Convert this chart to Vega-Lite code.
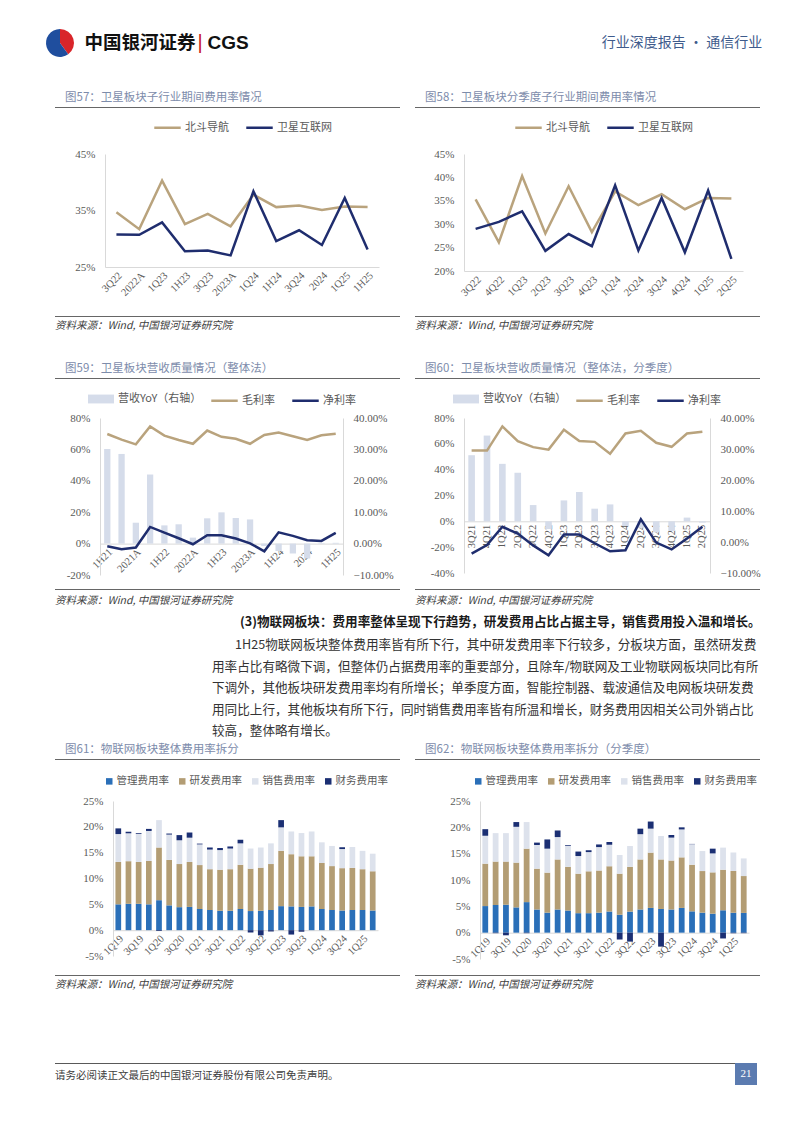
{
"$schema": "https://vega.github.io/schema/vega-lite/v6.json",
"padding": {"left": 45, "top": 28, "right": 0, "bottom": 0},
"background": "white",
"spacing": 0,
"resolve": {"scale": {"color": "independent", "fill": "independent", "stroke": "independent"}},
"config": {
  "view": {"stroke": null},
  "title": {"font": "Noto Sans CJK SC", "fontSize": 11.5, "fontWeight": "normal", "color": "#7d8cab", "anchor": "start"},
  "axis": {"labelFont": "Liberation Serif", "labelFontSize": 11, "labelColor": "#595959", "ticks": false, "grid": false, "domainColor": "#d9d9d9", "labelPadding": 8},
  "legend": {"orient": "top", "title": null, "labelFont": "Noto Sans CJK SC", "labelFontSize": 11, "labelColor": "#595959", "padding": 0, "layout": {"top": {"anchor": "middle"}}}
},
"vconcat": [
  {"hconcat": [
    {"width": 30, "height": 30, "data": {"values": [{"k": "红", "v": 2}, {"k": "蓝", "v": 3}]}, "mark": {"type": "arc", "outerRadius": 14}, "encoding": {"theta": {"field": "v", "type": "quantitative"}, "color": {"field": "k", "type": "nominal", "scale": {"domain": ["红", "蓝"], "range": ["#d9252a", "#1f4e9e"]}, "legend": null}}},
    {"width": 9, "height": 30, "data": {"values": []}, "mark": "point"},
    {"width": 112, "height": 30, "data": {"values": [{"t": "中国银河证券"}]}, "mark": {"type": "text", "font": "Noto Sans CJK SC", "fontSize": 18.5, "fontWeight": "bold", "color": "#111111"}, "encoding": {"text": {"field": "t"}}},
    {"width": 8, "height": 30, "data": {"values": [{"t": "|"}]}, "mark": {"type": "text", "font": "Liberation Sans", "fontSize": 20, "color": "#c8161d"}, "encoding": {"text": {"field": "t"}}},
    {"width": 48, "height": 30, "data": {"values": [{"t": "CGS"}]}, "mark": {"type": "text", "font": "Liberation Sans", "fontSize": 19, "fontWeight": "bold", "color": "#111111"}, "encoding": {"text": {"field": "t"}}},
    {"width": 349, "height": 30, "data": {"values": []}, "mark": "point"},
    {"width": 156, "height": 30, "data": {"values": [{"t": "行业深度报告 · 通信行业"}]}, "mark": {"type": "text", "font": "Noto Sans CJK SC", "fontSize": 14, "color": "#3e5b8c"}, "encoding": {"text": {"field": "t"}}}
  ], "spacing": 0, "resolve": {"scale": {"color": "independent", "fill": "independent", "stroke": "independent"}}},
  {"width": 1, "height": 33, "data": {"values": []}, "mark": "point"},
  {"hconcat": [
    {"width": 1, "height": 1, "data": {"values": []}, "mark": "point"},
    {"hconcat": [
      {"width": 345, "height": 1, "data": {"values": []}, "mark": "point", "view": {"fill": "#666666", "stroke": null}, "title": {"text": "图57：卫星板块子行业期间费用率情况", "orient": "top", "anchor": "start", "dx": 10, "offset": 4}},
      {"width": 345, "height": 1, "data": {"values": []}, "mark": "point", "view": {"fill": "#666666", "stroke": null}, "title": {"text": "图58：卫星板块分季度子行业期间费用率情况", "orient": "top", "anchor": "start", "dx": 10, "offset": 4}}
    ], "spacing": 15}
  ], "spacing": 9},
  {"width": 1, "height": 5, "data": {"values": []}, "mark": "point"},
  {"hconcat": [
    {"width": 1, "height": 1, "data": {"values": []}, "mark": "point"},
    {"hconcat": [
      {"width": 274, "height": 113,
       "data": {"values": [
        {"p": "3Q22", "s": "北斗导航", "v": 34.7}, {"p": "2022A", "s": "北斗导航", "v": 31.7}, {"p": "1Q23", "s": "北斗导航", "v": 40.3}, {"p": "1H23", "s": "北斗导航", "v": 32.6}, {"p": "3Q23", "s": "北斗导航", "v": 34.4}, {"p": "2023A", "s": "北斗导航", "v": 32.2}, {"p": "1Q24", "s": "北斗导航", "v": 37.8}, {"p": "1H24", "s": "北斗导航", "v": 35.6}, {"p": "3Q24", "s": "北斗导航", "v": 35.9}, {"p": "2024", "s": "北斗导航", "v": 35.1}, {"p": "1Q25", "s": "北斗导航", "v": 35.7}, {"p": "1H25", "s": "北斗导航", "v": 35.6},
        {"p": "3Q22", "s": "卫星互联网", "v": 30.75}, {"p": "2022A", "s": "卫星互联网", "v": 30.7}, {"p": "1Q23", "s": "卫星互联网", "v": 32.9}, {"p": "1H23", "s": "卫星互联网", "v": 27.8}, {"p": "3Q23", "s": "卫星互联网", "v": 27.9}, {"p": "2023A", "s": "卫星互联网", "v": 27.05}, {"p": "1Q24", "s": "卫星互联网", "v": 38.4}, {"p": "1H24", "s": "卫星互联网", "v": 29.6}, {"p": "3Q24", "s": "卫星互联网", "v": 31.5}, {"p": "2024", "s": "卫星互联网", "v": 28.9}, {"p": "1Q25", "s": "卫星互联网", "v": 37.2}, {"p": "1H25", "s": "卫星互联网", "v": 28.1}
       ]},
       "mark": {"type": "line", "strokeWidth": 2.5},
       "encoding": {
        "x": {"field": "p", "type": "ordinal", "scale": {"type": "point", "padding": 0.5, "domain": ["3Q22", "2022A", "1Q23", "1H23", "3Q23", "2023A", "1Q24", "1H24", "3Q24", "2024", "1Q25", "1H25"]}, "axis": {"title": null, "labelAngle": -45, "labelFontSize": 10.5, "minExtent": 34, "labelPadding": 3}},
        "y": {"field": "v", "type": "quantitative", "scale": {"domain": [25, 45]}, "axis": {"title": null, "values": [25, 35, 45], "labelExpr": "datum.value + '%'", "minExtent": 50, "labelPadding": 10}},
        "color": {"field": "s", "type": "nominal", "scale": {"domain": ["北斗导航", "卫星互联网"], "range": ["#b9a37d", "#1f2d6e"]}, "legend": {"symbolType": "stroke", "symbolStrokeWidth": 2.5, "symbolSize": 700, "offset": 21, "columnPadding": 12, "labelOffset": 3}}
       }},
      {"width": 279, "height": 117,
       "data": {"values": [
        {"p": "3Q22", "s": "北斗导航", "v": 35.3}, {"p": "4Q22", "s": "北斗导航", "v": 26.1}, {"p": "1Q23", "s": "北斗导航", "v": 40.3}, {"p": "2Q23", "s": "北斗导航", "v": 28.0}, {"p": "3Q23", "s": "北斗导航", "v": 38.1}, {"p": "4Q23", "s": "北斗导航", "v": 28.3}, {"p": "1Q24", "s": "北斗导航", "v": 37.0}, {"p": "2Q24", "s": "北斗导航", "v": 34.1}, {"p": "3Q24", "s": "北斗导航", "v": 36.4}, {"p": "4Q24", "s": "北斗导航", "v": 33.2}, {"p": "1Q25", "s": "北斗导航", "v": 35.6}, {"p": "2Q25", "s": "北斗导航", "v": 35.5},
        {"p": "3Q22", "s": "卫星互联网", "v": 29.0}, {"p": "4Q22", "s": "卫星互联网", "v": 30.5}, {"p": "1Q23", "s": "卫星互联网", "v": 32.75}, {"p": "2Q23", "s": "卫星互联网", "v": 24.3}, {"p": "3Q23", "s": "卫星互联网", "v": 27.9}, {"p": "4Q23", "s": "卫星互联网", "v": 25.3}, {"p": "1Q24", "s": "卫星互联网", "v": 38.3}, {"p": "2Q24", "s": "卫星互联网", "v": 24.4}, {"p": "3Q24", "s": "卫星互联网", "v": 35.6}, {"p": "4Q24", "s": "卫星互联网", "v": 24.0}, {"p": "1Q25", "s": "卫星互联网", "v": 37.2}, {"p": "2Q25", "s": "卫星互联网", "v": 22.6}
       ]},
       "mark": {"type": "line", "strokeWidth": 2.5},
       "encoding": {
        "x": {"field": "p", "type": "ordinal", "scale": {"type": "point", "padding": 0.5, "domain": ["3Q22", "4Q22", "1Q23", "2Q23", "3Q23", "4Q23", "1Q24", "2Q24", "3Q24", "4Q24", "1Q25", "2Q25"]}, "axis": {"title": null, "labelAngle": -45, "labelFontSize": 10.5, "minExtent": 30, "labelPadding": 3}},
        "y": {"field": "v", "type": "quantitative", "scale": {"domain": [20, 45]}, "axis": {"title": null, "values": [20, 25, 30, 35, 40, 45], "labelExpr": "datum.value + '%'", "minExtent": 49, "labelPadding": 10}},
        "color": {"field": "s", "type": "nominal", "scale": {"domain": ["北斗导航", "卫星互联网"], "range": ["#b9a37d", "#1f2d6e"]}, "legend": {"symbolType": "stroke", "symbolStrokeWidth": 2.5, "symbolSize": 700, "offset": 21, "columnPadding": 12, "labelOffset": 3}}
       }}
    ], "spacing": 36, "resolve": {"scale": {"color": "independent", "fill": "independent", "stroke": "independent"}}}
  ], "spacing": 9, "resolve": {"scale": {"color": "independent", "fill": "independent", "stroke": "independent"}}},
  {"width": 1, "height": 15, "data": {"values": []}, "mark": "point"},
  {"hconcat": [
    {"width": 1, "height": 1, "data": {"values": []}, "mark": "point"},
    {"hconcat": [
      {"width": 345, "height": 1, "data": {"values": []}, "mark": "point", "view": {"fill": "#666666", "stroke": null}, "title": {"text": "资料来源：Wind, 中国银河证券研究院", "orient": "bottom", "anchor": "start", "offset": 4, "fontSize": 10.5, "fontStyle": "italic", "color": "#404040"}},
      {"width": 345, "height": 1, "data": {"values": []}, "mark": "point", "view": {"fill": "#666666", "stroke": null}, "title": {"text": "资料来源：Wind, 中国银河证券研究院", "orient": "bottom", "anchor": "start", "offset": 4, "fontSize": 10.5, "fontStyle": "italic", "color": "#404040"}}
    ], "spacing": 15}
  ], "spacing": 9},
  {"width": 1, "height": 30, "data": {"values": []}, "mark": "point"},
  {"hconcat": [
    {"width": 1, "height": 1, "data": {"values": []}, "mark": "point"},
    {"hconcat": [
      {"width": 345, "height": 1, "data": {"values": []}, "mark": "point", "view": {"fill": "#666666", "stroke": null}, "title": {"text": "图59：卫星板块营收质量情况（整体法）", "orient": "top", "anchor": "start", "dx": 10, "offset": 4}},
      {"width": 345, "height": 1, "data": {"values": []}, "mark": "point", "view": {"fill": "#666666", "stroke": null}, "title": {"text": "图60：卫星板块营收质量情况（整体法，分季度）", "orient": "top", "anchor": "start", "dx": 10, "offset": 4}}
    ], "spacing": 15}
  ], "spacing": 9},
  {"width": 1, "height": 7, "data": {"values": []}, "mark": "point"},
  {"hconcat": [
    {"width": 1, "height": 1, "data": {"values": []}, "mark": "point"},
    {"hconcat": [
      {"width": 243, "height": 157,
       "layer": [
        {"data": {"values": [
          {"p": "1H21", "s": "营收YoY（右轴）", "v": 60.3}, {"p": "3Q21", "s": "营收YoY（右轴）", "v": 57.1}, {"p": "2021A", "s": "营收YoY（右轴）", "v": 13.3}, {"p": "1Q22", "s": "营收YoY（右轴）", "v": 44.0}, {"p": "1H22", "s": "营收YoY（右轴）", "v": 11.6}, {"p": "3Q22", "s": "营收YoY（右轴）", "v": 12.3}, {"p": "2022A", "s": "营收YoY（右轴）", "v": 3.8}, {"p": "1Q23", "s": "营收YoY（右轴）", "v": 16.1}, {"p": "1H23", "s": "营收YoY（右轴）", "v": 19.9}, {"p": "3Q23", "s": "营收YoY（右轴）", "v": 16.3}, {"p": "2023A", "s": "营收YoY（右轴）", "v": 15.4}, {"p": "1Q24", "s": "营收YoY（右轴）", "v": -1.5}, {"p": "1H24", "s": "营收YoY（右轴）", "v": -4.7}, {"p": "3Q24", "s": "营收YoY（右轴）", "v": -6.3}, {"p": "2024", "s": "营收YoY（右轴）", "v": -9.5}, {"p": "1Q25", "s": "营收YoY（右轴）", "v": 0.3}, {"p": "1H25", "s": "营收YoY（右轴）", "v": 0.5}
         ]},
         "mark": {"type": "bar"},
         "encoding": {
          "x": {"field": "p", "type": "ordinal", "scale": {"domain": ["1H21", "3Q21", "2021A", "1Q22", "1H22", "3Q22", "2022A", "1Q23", "1H23", "3Q23", "2023A", "1Q24", "1H24", "3Q24", "2024", "1Q25", "1H25"], "paddingInner": 0.56, "paddingOuter": 0.29}, "axis": {"title": null, "values": ["1H21", "2021A", "1H22", "2022A", "1H23", "2023A", "1H24", "2024", "1H25"], "labelAngle": -45, "labelFontSize": 10.5, "offset": -31.4, "labelPadding": 3}},
          "y": {"field": "v", "type": "quantitative", "scale": {"domain": [-20, 80]}, "axis": {"title": null, "orient": "left", "values": [-20, 0, 20, 40, 60, 80], "labelExpr": "datum.value + '%'", "minExtent": 45, "labelPadding": 10}},
          "fill": {"field": "s", "type": "nominal", "scale": {"range": ["#d5dcea"]}, "legend": {"symbolType": "M-1,-0.34H1V0.34H-1Z", "symbolSize": 676, "symbolStrokeWidth": 0, "offset": 12, "labelOffset": 4}}
         }},
        {"data": {"values": [
          {"p": "1H21", "s": "毛利率", "v": 34.9}, {"p": "3Q21", "s": "毛利率", "v": 33.1}, {"p": "2021A", "s": "毛利率", "v": 31.6}, {"p": "1Q22", "s": "毛利率", "v": 37.3}, {"p": "1H22", "s": "毛利率", "v": 34.4}, {"p": "3Q22", "s": "毛利率", "v": 33.0}, {"p": "2022A", "s": "毛利率", "v": 31.8}, {"p": "1Q23", "s": "毛利率", "v": 36.0}, {"p": "1H23", "s": "毛利率", "v": 34.0}, {"p": "3Q23", "s": "毛利率", "v": 33.4}, {"p": "2023A", "s": "毛利率", "v": 31.8}, {"p": "1Q24", "s": "毛利率", "v": 34.6}, {"p": "1H24", "s": "毛利率", "v": 35.4}, {"p": "3Q24", "s": "毛利率", "v": 34.2}, {"p": "2024", "s": "毛利率", "v": 33.0}, {"p": "1Q25", "s": "毛利率", "v": 34.5}, {"p": "1H25", "s": "毛利率", "v": 35.0},
          {"p": "1H21", "s": "净利率", "v": -0.85}, {"p": "3Q21", "s": "净利率", "v": -1.8}, {"p": "2021A", "s": "净利率", "v": -1.25}, {"p": "1Q22", "s": "净利率", "v": 5.3}, {"p": "1H22", "s": "净利率", "v": 3.5}, {"p": "3Q22", "s": "净利率", "v": 1.7}, {"p": "2022A", "s": "净利率", "v": -0.2}, {"p": "1Q23", "s": "净利率", "v": 2.65}, {"p": "1H23", "s": "净利率", "v": 2.65}, {"p": "3Q23", "s": "净利率", "v": 1.6}, {"p": "2023A", "s": "净利率", "v": 0.1}, {"p": "1Q24", "s": "净利率", "v": -2.45}, {"p": "1H24", "s": "净利率", "v": 3.6}, {"p": "3Q24", "s": "净利率", "v": 2.45}, {"p": "2024", "s": "净利率", "v": 1.05}, {"p": "1Q25", "s": "净利率", "v": 0.85}, {"p": "1H25", "s": "净利率", "v": 3.4}
         ]},
         "mark": {"type": "line", "strokeWidth": 2.5},
         "encoding": {
          "x": {"field": "p", "type": "ordinal"},
          "y": {"field": "v", "type": "quantitative", "scale": {"domain": [-10, 40]}, "axis": {"title": null, "orient": "right", "values": [-10, 0, 10, 20, 30, 40], "labelExpr": "format(datum.value, '.2f') + '%'", "labelPadding": 10, "minExtent": 48, "maxExtent": 48}},
          "stroke": {"field": "s", "type": "nominal", "scale": {"domain": ["毛利率", "净利率"], "range": ["#b9a37d", "#1f2d6e"]}, "legend": {"symbolType": "stroke", "symbolStrokeWidth": 2.5, "symbolSize": 700, "offset": 12, "columnPadding": 12, "labelOffset": 3}}
         }}
       ],
       "resolve": {"scale": {"y": "independent"}}},
      {"width": 246, "height": 155,
       "layer": [
        {"data": {"values": [
          {"p": "3Q21", "s": "营收YoY（右轴）", "v": 51.2}, {"p": "4Q21", "s": "营收YoY（右轴）", "v": 66.4}, {"p": "1Q22", "s": "营收YoY（右轴）", "v": 44.5}, {"p": "2Q22", "s": "营收YoY（右轴）", "v": 37.6}, {"p": "3Q22", "s": "营收YoY（右轴）", "v": 12.6}, {"p": "4Q22", "s": "营收YoY（右轴）", "v": -6.0}, {"p": "1Q23", "s": "营收YoY（右轴）", "v": 16.2}, {"p": "2Q23", "s": "营收YoY（右轴）", "v": 22.7}, {"p": "3Q23", "s": "营收YoY（右轴）", "v": 9.8}, {"p": "4Q23", "s": "营收YoY（右轴）", "v": 13.1}, {"p": "1Q24", "s": "营收YoY（右轴）", "v": -3.6}, {"p": "2Q24", "s": "营收YoY（右轴）", "v": -5.0}, {"p": "3Q24", "s": "营收YoY（右轴）", "v": -8.5}, {"p": "4Q24", "s": "营收YoY（右轴）", "v": -7.5}, {"p": "1Q25", "s": "营收YoY（右轴）", "v": 2.9}, {"p": "2Q25", "s": "营收YoY（右轴）", "v": -1.0}
         ]},
         "mark": {"type": "bar"},
         "encoding": {
          "x": {"field": "p", "type": "ordinal", "scale": {"domain": ["3Q21", "4Q21", "1Q22", "2Q22", "3Q22", "4Q22", "1Q23", "2Q23", "3Q23", "4Q23", "1Q24", "2Q24", "3Q24", "4Q24", "1Q25", "2Q25"], "paddingInner": 0.57, "paddingOuter": 0.28}, "axis": {"title": null, "labelAngle": -90, "labelFontSize": 10.5, "offset": -51.7, "labelPadding": 3}},
          "y": {"field": "v", "type": "quantitative", "scale": {"domain": [-40, 80]}, "axis": {"title": null, "orient": "left", "values": [-40, -20, 0, 20, 40, 60, 80], "labelExpr": "datum.value + '%'", "minExtent": 46, "labelPadding": 10}},
          "fill": {"field": "s", "type": "nominal", "scale": {"range": ["#d5dcea"]}, "legend": {"symbolType": "M-1,-0.34H1V0.34H-1Z", "symbolSize": 676, "symbolStrokeWidth": 0, "offset": 12, "labelOffset": 4}}
         }},
        {"data": {"values": [
          {"p": "3Q21", "s": "毛利率", "v": 29.5}, {"p": "4Q21", "s": "毛利率", "v": 29.5}, {"p": "1Q22", "s": "毛利率", "v": 37.3}, {"p": "2Q22", "s": "毛利率", "v": 32.5}, {"p": "3Q22", "s": "毛利率", "v": 30.6}, {"p": "4Q22", "s": "毛利率", "v": 29.8}, {"p": "1Q23", "s": "毛利率", "v": 36.2}, {"p": "2Q23", "s": "毛利率", "v": 32.6}, {"p": "3Q23", "s": "毛利率", "v": 32.3}, {"p": "4Q23", "s": "毛利率", "v": 28.5}, {"p": "1Q24", "s": "毛利率", "v": 35.0}, {"p": "2Q24", "s": "毛利率", "v": 35.9}, {"p": "3Q24", "s": "毛利率", "v": 32.0}, {"p": "4Q24", "s": "毛利率", "v": 30.7}, {"p": "1Q25", "s": "毛利率", "v": 35.0}, {"p": "2Q25", "s": "毛利率", "v": 35.6},
          {"p": "3Q21", "s": "净利率", "v": -3.75}, {"p": "4Q21", "s": "净利率", "v": -1.0}, {"p": "1Q22", "s": "净利率", "v": 4.9}, {"p": "2Q22", "s": "净利率", "v": 2.7}, {"p": "3Q22", "s": "净利率", "v": -1.1}, {"p": "4Q22", "s": "净利率", "v": -4.3}, {"p": "1Q23", "s": "净利率", "v": 2.4}, {"p": "2Q23", "s": "净利率", "v": 2.4}, {"p": "3Q23", "s": "净利率", "v": -0.4}, {"p": "4Q23", "s": "净利率", "v": -3.0}, {"p": "1Q24", "s": "净利率", "v": -2.7}, {"p": "2Q24", "s": "净利率", "v": 7.3}, {"p": "3Q24", "s": "净利率", "v": -0.2}, {"p": "4Q24", "s": "净利率", "v": -2.4}, {"p": "1Q25", "s": "净利率", "v": 1.1}, {"p": "2Q25", "s": "净利率", "v": 4.9}
         ]},
         "mark": {"type": "line", "strokeWidth": 2.5},
         "encoding": {
          "x": {"field": "p", "type": "ordinal"},
          "y": {"field": "v", "type": "quantitative", "scale": {"domain": [-10, 40]}, "axis": {"title": null, "orient": "right", "values": [-10, 0, 10, 20, 30, 40], "labelExpr": "format(datum.value, '.2f') + '%'", "labelPadding": 10}},
          "stroke": {"field": "s", "type": "nominal", "scale": {"domain": ["毛利率", "净利率"], "range": ["#b9a37d", "#1f2d6e"]}, "legend": {"symbolType": "stroke", "symbolStrokeWidth": 2.5, "symbolSize": 700, "offset": 12, "columnPadding": 12, "labelOffset": 3}}
         }}
       ],
       "resolve": {"scale": {"y": "independent"}}}
    ], "spacing": 24, "resolve": {"scale": {"color": "independent", "fill": "independent", "stroke": "independent"}}}
  ], "spacing": 9, "resolve": {"scale": {"color": "independent", "fill": "independent", "stroke": "independent"}}},
  {"width": 1, "height": 9, "data": {"values": []}, "mark": "point"},
  {"hconcat": [
    {"width": 1, "height": 1, "data": {"values": []}, "mark": "point"},
    {"hconcat": [
      {"width": 345, "height": 1, "data": {"values": []}, "mark": "point", "view": {"fill": "#666666", "stroke": null}, "title": {"text": "资料来源：Wind, 中国银河证券研究院", "orient": "bottom", "anchor": "start", "offset": 6, "fontSize": 10.5, "fontStyle": "italic", "color": "#404040"}},
      {"width": 345, "height": 1, "data": {"values": []}, "mark": "point", "view": {"fill": "#666666", "stroke": null}, "title": {"text": "资料来源：Wind, 中国银河证券研究院", "orient": "bottom", "anchor": "start", "offset": 6, "fontSize": 10.5, "fontStyle": "italic", "color": "#404040"}}
    ], "spacing": 15}
  ], "spacing": 9},
  {"width": 1, "height": 9, "data": {"values": []}, "mark": "point"},
  {"hconcat": [
    {"width": 1, "height": 1, "data": {"values": []}, "mark": "point"},
    {"width": 548, "height": 1, "data": {"values": []}, "mark": "point",
     "title": {"text": "(3)物联网板块：费用率整体呈现下行趋势，研发费用占比占据主导，销售费用投入温和增长。", "orient": "top", "anchor": "start", "dx": 28, "offset": 0, "fontSize": 12.6, "fontWeight": "bold", "color": "#1a1a1a"}}
  ], "spacing": 166},
  {"width": 1, "height": 9, "data": {"values": []}, "mark": "point"},
  {"hconcat": [
    {"width": 1, "height": 1, "data": {"values": []}, "mark": "point"},
    {"width": 548, "height": 1, "data": {"values": []}, "mark": "point",
     "title": {"text": "1H25物联网板块整体费用率皆有所下行，其中研发费用率下行较多，分板块方面，虽然研发费", "orient": "top", "anchor": "start", "dx": 23, "offset": 0, "fontSize": 12.6, "fontWeight": "normal", "color": "#333333"}}
  ], "spacing": 166},
  {"width": 1, "height": 7, "data": {"values": []}, "mark": "point"},
  {"hconcat": [
    {"width": 1, "height": 1, "data": {"values": []}, "mark": "point"},
    {"width": 548, "height": 1, "data": {"values": []}, "mark": "point",
     "title": {"text": "用率占比有略微下调，但整体仍占据费用率的重要部分，且除车/物联网及工业物联网板块同比有所",
      "subtitle": ["下调外，其他板块研发费用率均有所增长；单季度方面，智能控制器、载波通信及电网板块研发费", "用同比上行，其他板块有所下行，同时销售费用率皆有所温和增长，财务费用因相关公司外销占比", "较高，整体略有增长。"],
      "orient": "top", "anchor": "start", "offset": 0, "fontSize": 12.6, "fontWeight": "normal", "color": "#333333", "subtitleFont": "Noto Sans CJK SC", "subtitleFontSize": 12.6, "subtitleColor": "#333333", "subtitleLineHeight": 21.7, "subtitlePadding": 8.5}}
  ], "spacing": 166},
  {"width": 1, "height": 4, "data": {"values": []}, "mark": "point"},
  {"hconcat": [
    {"width": 1, "height": 1, "data": {"values": []}, "mark": "point"},
    {"hconcat": [
      {"width": 345, "height": 1, "data": {"values": []}, "mark": "point", "view": {"fill": "#666666", "stroke": null}, "title": {"text": "图61：物联网板块整体费用率拆分", "orient": "top", "anchor": "start", "dx": 10, "offset": 4}},
      {"width": 345, "height": 1, "data": {"values": []}, "mark": "point", "view": {"fill": "#666666", "stroke": null}, "title": {"text": "图62：物联网板块整体费用率拆分（分季度）", "orient": "top", "anchor": "start", "dx": 10, "offset": 4}}
    ], "spacing": 15}
  ], "spacing": 9},
  {"width": 1, "height": 16, "data": {"values": []}, "mark": "point"},
  {"hconcat": [
    {"width": 1, "height": 1, "data": {"values": []}, "mark": "point"},
    {"hconcat": [
      {"width": 265, "height": 155,
       "data": {"values": [
        {"p": "1Q19", "s": "管理费用率", "o": 1, "v": 5.0}, {"p": "1Q19", "s": "研发费用率", "o": 2, "v": 8.2}, {"p": "1Q19", "s": "销售费用率", "o": 3, "v": 5.4}, {"p": "1Q19", "s": "财务费用率", "o": 4, "v": 1.1},
        {"p": "1H19", "s": "管理费用率", "o": 1, "v": 5.1}, {"p": "1H19", "s": "研发费用率", "o": 2, "v": 8.25}, {"p": "1H19", "s": "销售费用率", "o": 3, "v": 5.4}, {"p": "1H19", "s": "财务费用率", "o": 4, "v": 0.3},
        {"p": "3Q19", "s": "管理费用率", "o": 1, "v": 5.1}, {"p": "3Q19", "s": "研发费用率", "o": 2, "v": 8.1}, {"p": "3Q19", "s": "销售费用率", "o": 3, "v": 5.45}, {"p": "3Q19", "s": "财务费用率", "o": 4, "v": 0.15},
        {"p": "2019A", "s": "管理费用率", "o": 1, "v": 5.0}, {"p": "2019A", "s": "研发费用率", "o": 2, "v": 8.4}, {"p": "2019A", "s": "销售费用率", "o": 3, "v": 5.8}, {"p": "2019A", "s": "财务费用率", "o": 4, "v": 0.4},
        {"p": "1Q20", "s": "管理费用率", "o": 1, "v": 5.8}, {"p": "1Q20", "s": "研发费用率", "o": 2, "v": 10.2}, {"p": "1Q20", "s": "销售费用率", "o": 3, "v": 5.3}, {"p": "1Q20", "s": "财务费用率", "o": 4, "v": -0.15},
        {"p": "1H20", "s": "管理费用率", "o": 1, "v": 4.8}, {"p": "1H20", "s": "研发费用率", "o": 2, "v": 8.8}, {"p": "1H20", "s": "销售费用率", "o": 3, "v": 4.9}, {"p": "1H20", "s": "财务费用率", "o": 4, "v": 0.2},
        {"p": "3Q20", "s": "管理费用率", "o": 1, "v": 4.45}, {"p": "3Q20", "s": "研发费用率", "o": 2, "v": 8.35}, {"p": "3Q20", "s": "销售费用率", "o": 3, "v": 4.6}, {"p": "3Q20", "s": "财务费用率", "o": 4, "v": 1.0},
        {"p": "2020A", "s": "管理费用率", "o": 1, "v": 4.5}, {"p": "2020A", "s": "研发费用率", "o": 2, "v": 8.7}, {"p": "2020A", "s": "销售费用率", "o": 3, "v": 4.7}, {"p": "2020A", "s": "财务费用率", "o": 4, "v": 1.0},
        {"p": "1Q21", "s": "管理费用率", "o": 1, "v": 4.1}, {"p": "1Q21", "s": "研发费用率", "o": 2, "v": 8.5}, {"p": "1Q21", "s": "销售费用率", "o": 3, "v": 4.0}, {"p": "1Q21", "s": "财务费用率", "o": 4, "v": 0.15},
        {"p": "1H21", "s": "管理费用率", "o": 1, "v": 3.9}, {"p": "1H21", "s": "研发费用率", "o": 2, "v": 7.9}, {"p": "1H21", "s": "销售费用率", "o": 3, "v": 3.8}, {"p": "1H21", "s": "财务费用率", "o": 4, "v": 0.4},
        {"p": "3Q21", "s": "管理费用率", "o": 1, "v": 3.75}, {"p": "3Q21", "s": "研发费用率", "o": 2, "v": 7.95}, {"p": "3Q21", "s": "销售费用率", "o": 3, "v": 3.8}, {"p": "3Q21", "s": "财务费用率", "o": 4, "v": 0.4},
        {"p": "2021A", "s": "管理费用率", "o": 1, "v": 3.75}, {"p": "2021A", "s": "研发费用率", "o": 2, "v": 8.05}, {"p": "2021A", "s": "销售费用率", "o": 3, "v": 4.0}, {"p": "2021A", "s": "财务费用率", "o": 4, "v": 0.4},
        {"p": "1Q22", "s": "管理费用率", "o": 1, "v": 4.1}, {"p": "1Q22", "s": "研发费用率", "o": 2, "v": 8.55}, {"p": "1Q22", "s": "销售费用率", "o": 3, "v": 4.15}, {"p": "1Q22", "s": "财务费用率", "o": 4, "v": 0.7},
        {"p": "1H22", "s": "管理费用率", "o": 1, "v": 3.7}, {"p": "1H22", "s": "研发费用率", "o": 2, "v": 8.2}, {"p": "1H22", "s": "销售费用率", "o": 3, "v": 3.9}, {"p": "1H22", "s": "财务费用率", "o": 4, "v": -0.45},
        {"p": "3Q22", "s": "管理费用率", "o": 1, "v": 3.75}, {"p": "3Q22", "s": "研发费用率", "o": 2, "v": 8.35}, {"p": "3Q22", "s": "销售费用率", "o": 3, "v": 3.9}, {"p": "3Q22", "s": "财务费用率", "o": 4, "v": -1.0},
        {"p": "2022A", "s": "管理费用率", "o": 1, "v": 3.9}, {"p": "2022A", "s": "研发费用率", "o": 2, "v": 8.9}, {"p": "2022A", "s": "销售费用率", "o": 3, "v": 4.0}, {"p": "2022A", "s": "财务费用率", "o": 4, "v": -0.25},
        {"p": "1Q23", "s": "管理费用率", "o": 1, "v": 4.65}, {"p": "1Q23", "s": "研发费用率", "o": 2, "v": 10.7}, {"p": "1Q23", "s": "销售费用率", "o": 3, "v": 4.55}, {"p": "1Q23", "s": "财务费用率", "o": 4, "v": 1.4},
        {"p": "1H23", "s": "管理费用率", "o": 1, "v": 4.6}, {"p": "1H23", "s": "研发费用率", "o": 2, "v": 10.1}, {"p": "1H23", "s": "销售费用率", "o": 3, "v": 4.4}, {"p": "1H23", "s": "财务费用率", "o": 4, "v": -0.85},
        {"p": "3Q23", "s": "管理费用率", "o": 1, "v": 4.5}, {"p": "3Q23", "s": "研发费用率", "o": 2, "v": 9.8}, {"p": "3Q23", "s": "销售费用率", "o": 3, "v": 4.5}, {"p": "3Q23", "s": "财务费用率", "o": 4, "v": -0.3},
        {"p": "2023A", "s": "管理费用率", "o": 1, "v": 4.6}, {"p": "2023A", "s": "研发费用率", "o": 2, "v": 9.7}, {"p": "2023A", "s": "销售费用率", "o": 3, "v": 4.8},
        {"p": "1Q24", "s": "管理费用率", "o": 1, "v": 4.1}, {"p": "1Q24", "s": "研发费用率", "o": 2, "v": 8.9}, {"p": "1Q24", "s": "销售费用率", "o": 3, "v": 4.0},
        {"p": "1H24", "s": "管理费用率", "o": 1, "v": 3.9}, {"p": "1H24", "s": "研发费用率", "o": 2, "v": 8.5}, {"p": "1H24", "s": "销售费用率", "o": 3, "v": 3.9},
        {"p": "3Q24", "s": "管理费用率", "o": 1, "v": 3.8}, {"p": "3Q24", "s": "研发费用率", "o": 2, "v": 8.2}, {"p": "3Q24", "s": "销售费用率", "o": 3, "v": 3.7}, {"p": "3Q24", "s": "财务费用率", "o": 4, "v": 0.35},
        {"p": "2024A", "s": "管理费用率", "o": 1, "v": 3.9}, {"p": "2024A", "s": "研发费用率", "o": 2, "v": 8.15}, {"p": "2024A", "s": "销售费用率", "o": 3, "v": 4.05},
        {"p": "1Q25", "s": "管理费用率", "o": 1, "v": 3.9}, {"p": "1Q25", "s": "研发费用率", "o": 2, "v": 7.9}, {"p": "1Q25", "s": "销售费用率", "o": 3, "v": 3.55},
        {"p": "1H25", "s": "管理费用率", "o": 1, "v": 3.8}, {"p": "1H25", "s": "研发费用率", "o": 2, "v": 7.6}, {"p": "1H25", "s": "销售费用率", "o": 3, "v": 3.4}
       ]},
       "mark": {"type": "bar"},
       "encoding": {
        "x": {"field": "p", "type": "ordinal", "scale": {"domain": ["1Q19", "1H19", "3Q19", "2019A", "1Q20", "1H20", "3Q20", "2020A", "1Q21", "1H21", "3Q21", "2021A", "1Q22", "1H22", "3Q22", "2022A", "1Q23", "1H23", "3Q23", "2023A", "1Q24", "1H24", "3Q24", "2024A", "1Q25", "1H25"], "paddingInner": 0.44, "paddingOuter": 0.24}, "axis": {"title": null, "values": ["1Q19", "3Q19", "1Q20", "3Q20", "1Q21", "3Q21", "1Q22", "3Q22", "1Q23", "3Q23", "1Q24", "3Q24", "1Q25"], "labelAngle": -45, "labelFontSize": 10.5, "offset": -25.8, "labelPadding": 3}},
        "y": {"field": "v", "type": "quantitative", "stack": "zero", "scale": {"domain": [-5, 25]}, "axis": {"title": null, "values": [-5, 0, 5, 10, 15, 20, 25], "labelExpr": "datum.value + '%'", "minExtent": 58, "labelPadding": 10}},
        "color": {"field": "s", "type": "nominal", "scale": {"domain": ["管理费用率", "研发费用率", "销售费用率", "财务费用率"], "range": ["#2a6fb8", "#b39d74", "#dde2ec", "#1b2f73"]}, "legend": {"symbolType": "square", "symbolSize": 42, "offset": 14, "columnPadding": 8, "labelOffset": 2, "labelFontSize": 10.5}},
        "order": {"field": "o", "type": "quantitative"}
       }},
      {"width": 269, "height": 158,
       "data": {"values": [
        {"p": "1Q19", "s": "管理费用率", "o": 1, "v": 5.05}, {"p": "1Q19", "s": "研发费用率", "o": 2, "v": 8.05}, {"p": "1Q19", "s": "销售费用率", "o": 3, "v": 5.3}, {"p": "1Q19", "s": "财务费用率", "o": 4, "v": 1.25},
        {"p": "2Q19", "s": "管理费用率", "o": 1, "v": 5.25}, {"p": "2Q19", "s": "研发费用率", "o": 2, "v": 8.25}, {"p": "2Q19", "s": "销售费用率", "o": 3, "v": 5.4}, {"p": "2Q19", "s": "财务费用率", "o": 4, "v": -0.1},
        {"p": "3Q19", "s": "管理费用率", "o": 1, "v": 5.3}, {"p": "3Q19", "s": "研发费用率", "o": 2, "v": 8.2}, {"p": "3Q19", "s": "销售费用率", "o": 3, "v": 5.4}, {"p": "3Q19", "s": "财务费用率", "o": 4, "v": -0.5},
        {"p": "4Q19", "s": "管理费用率", "o": 1, "v": 4.8}, {"p": "4Q19", "s": "研发费用率", "o": 2, "v": 8.5}, {"p": "4Q19", "s": "销售费用率", "o": 3, "v": 6.8}, {"p": "4Q19", "s": "财务费用率", "o": 4, "v": 0.9},
        {"p": "1Q20", "s": "管理费用率", "o": 1, "v": 5.8}, {"p": "1Q20", "s": "研发费用率", "o": 2, "v": 10.15}, {"p": "1Q20", "s": "销售费用率", "o": 3, "v": 5.05}, {"p": "1Q20", "s": "财务费用率", "o": 4, "v": -0.1},
        {"p": "2Q20", "s": "管理费用率", "o": 1, "v": 4.4}, {"p": "2Q20", "s": "研发费用率", "o": 2, "v": 7.75}, {"p": "2Q20", "s": "销售费用率", "o": 3, "v": 4.5}, {"p": "2Q20", "s": "财务费用率", "o": 4, "v": 0.45},
        {"p": "3Q20", "s": "管理费用率", "o": 1, "v": 3.8}, {"p": "3Q20", "s": "研发费用率", "o": 2, "v": 7.6}, {"p": "3Q20", "s": "销售费用率", "o": 3, "v": 4.55}, {"p": "3Q20", "s": "财务费用率", "o": 4, "v": 1.75},
        {"p": "4Q20", "s": "管理费用率", "o": 1, "v": 4.4}, {"p": "4Q20", "s": "研发费用率", "o": 2, "v": 9.5}, {"p": "4Q20", "s": "销售费用率", "o": 3, "v": 4.25}, {"p": "4Q20", "s": "财务费用率", "o": 4, "v": 1.25},
        {"p": "1Q21", "s": "管理费用率", "o": 1, "v": 4.2}, {"p": "1Q21", "s": "研发费用率", "o": 2, "v": 8.3}, {"p": "1Q21", "s": "销售费用率", "o": 3, "v": 3.95}, {"p": "1Q21", "s": "财务费用率", "o": 4, "v": 0.15},
        {"p": "2Q21", "s": "管理费用率", "o": 1, "v": 3.7}, {"p": "2Q21", "s": "研发费用率", "o": 2, "v": 7.5}, {"p": "2Q21", "s": "销售费用率", "o": 3, "v": 3.35}, {"p": "2Q21", "s": "财务费用率", "o": 4, "v": 0.85},
        {"p": "3Q21", "s": "管理费用率", "o": 1, "v": 3.7}, {"p": "3Q21", "s": "研发费用率", "o": 2, "v": 7.95}, {"p": "3Q21", "s": "销售费用率", "o": 3, "v": 3.65}, {"p": "3Q21", "s": "财务费用率", "o": 4, "v": 0.35},
        {"p": "4Q21", "s": "管理费用率", "o": 1, "v": 3.8}, {"p": "4Q21", "s": "研发费用率", "o": 2, "v": 8.0}, {"p": "4Q21", "s": "销售费用率", "o": 3, "v": 4.45}, {"p": "4Q21", "s": "财务费用率", "o": 4, "v": 0.5},
        {"p": "1Q22", "s": "管理费用率", "o": 1, "v": 4.0}, {"p": "1Q22", "s": "研发费用率", "o": 2, "v": 8.6}, {"p": "1Q22", "s": "销售费用率", "o": 3, "v": 4.1}, {"p": "1Q22", "s": "财务费用率", "o": 4, "v": 0.5},
        {"p": "2Q22", "s": "管理费用率", "o": 1, "v": 3.4}, {"p": "2Q22", "s": "研发费用率", "o": 2, "v": 7.8}, {"p": "2Q22", "s": "销售费用率", "o": 3, "v": 3.55}, {"p": "2Q22", "s": "财务费用率", "o": 4, "v": -1.3},
        {"p": "3Q22", "s": "管理费用率", "o": 1, "v": 4.0}, {"p": "3Q22", "s": "研发费用率", "o": 2, "v": 8.5}, {"p": "3Q22", "s": "销售费用率", "o": 3, "v": 3.95}, {"p": "3Q22", "s": "财务费用率", "o": 4, "v": -1.7},
        {"p": "4Q22", "s": "管理费用率", "o": 1, "v": 4.4}, {"p": "4Q22", "s": "研发费用率", "o": 2, "v": 9.5}, {"p": "4Q22", "s": "销售费用率", "o": 3, "v": 4.8}, {"p": "4Q22", "s": "财务费用率", "o": 4, "v": 1.05},
        {"p": "1Q23", "s": "管理费用率", "o": 1, "v": 4.7}, {"p": "1Q23", "s": "研发费用率", "o": 2, "v": 10.5}, {"p": "1Q23", "s": "销售费用率", "o": 3, "v": 4.55}, {"p": "1Q23", "s": "财务费用率", "o": 4, "v": 1.35},
        {"p": "2Q23", "s": "管理费用率", "o": 1, "v": 4.5}, {"p": "2Q23", "s": "研发费用率", "o": 2, "v": 9.4}, {"p": "2Q23", "s": "销售费用率", "o": 3, "v": 4.45}, {"p": "2Q23", "s": "财务费用率", "o": 4, "v": -2.65},
        {"p": "3Q23", "s": "管理费用率", "o": 1, "v": 4.4}, {"p": "3Q23", "s": "研发费用率", "o": 2, "v": 9.3}, {"p": "3Q23", "s": "销售费用率", "o": 3, "v": 4.35}, {"p": "3Q23", "s": "财务费用率", "o": 4, "v": 0.5},
        {"p": "4Q23", "s": "管理费用率", "o": 1, "v": 4.7}, {"p": "4Q23", "s": "研发费用率", "o": 2, "v": 9.6}, {"p": "4Q23", "s": "销售费用率", "o": 3, "v": 5.3}, {"p": "4Q23", "s": "财务费用率", "o": 4, "v": 0.4},
        {"p": "1Q24", "s": "管理费用率", "o": 1, "v": 4.05}, {"p": "1Q24", "s": "研发费用率", "o": 2, "v": 8.85}, {"p": "1Q24", "s": "销售费用率", "o": 3, "v": 3.9}, {"p": "1Q24", "s": "财务费用率", "o": 4, "v": 0.05},
        {"p": "2Q24", "s": "管理费用率", "o": 1, "v": 3.8}, {"p": "2Q24", "s": "研发费用率", "o": 2, "v": 7.9}, {"p": "2Q24", "s": "销售费用率", "o": 3, "v": 3.8},
        {"p": "3Q24", "s": "管理费用率", "o": 1, "v": 3.6}, {"p": "3Q24", "s": "研发费用率", "o": 2, "v": 7.85}, {"p": "3Q24", "s": "销售费用率", "o": 3, "v": 3.6}, {"p": "3Q24", "s": "财务费用率", "o": 4, "v": 0.9},
        {"p": "4Q24", "s": "管理费用率", "o": 1, "v": 4.25}, {"p": "4Q24", "s": "研发费用率", "o": 2, "v": 7.7}, {"p": "4Q24", "s": "销售费用率", "o": 3, "v": 4.2}, {"p": "4Q24", "s": "财务费用率", "o": 4, "v": -1.1},
        {"p": "1Q25", "s": "管理费用率", "o": 1, "v": 3.8}, {"p": "1Q25", "s": "研发费用率", "o": 2, "v": 7.9}, {"p": "1Q25", "s": "销售费用率", "o": 3, "v": 3.5}, {"p": "1Q25", "s": "财务费用率", "o": 4, "v": -0.1},
        {"p": "2Q25", "s": "管理费用率", "o": 1, "v": 3.75}, {"p": "2Q25", "s": "研发费用率", "o": 2, "v": 7.0}, {"p": "2Q25", "s": "销售费用率", "o": 3, "v": 3.35}, {"p": "2Q25", "s": "财务费用率", "o": 4, "v": -0.1}
       ]},
       "mark": {"type": "bar"},
       "encoding": {
        "x": {"field": "p", "type": "ordinal", "scale": {"domain": ["1Q19", "2Q19", "3Q19", "4Q19", "1Q20", "2Q20", "3Q20", "4Q20", "1Q21", "2Q21", "3Q21", "4Q21", "1Q22", "2Q22", "3Q22", "4Q22", "1Q23", "2Q23", "3Q23", "4Q23", "1Q24", "2Q24", "3Q24", "4Q24", "1Q25", "2Q25"], "paddingInner": 0.44, "paddingOuter": 0.23}, "axis": {"title": null, "values": ["1Q19", "3Q19", "1Q20", "3Q20", "1Q21", "3Q21", "1Q22", "3Q22", "1Q23", "3Q23", "1Q24", "3Q24", "1Q25"], "labelAngle": -45, "labelFontSize": 10.5, "offset": -26.3, "labelPadding": 3}},
        "y": {"field": "v", "type": "quantitative", "stack": "zero", "scale": {"domain": [-5, 25]}, "axis": {"title": null, "values": [-5, 0, 5, 10, 15, 20, 25], "labelExpr": "datum.value + '%'", "minExtent": 58, "labelPadding": 10}},
        "color": {"field": "s", "type": "nominal", "scale": {"domain": ["管理费用率", "研发费用率", "销售费用率", "财务费用率"], "range": ["#2a6fb8", "#b39d74", "#dde2ec", "#1b2f73"]}, "legend": {"symbolType": "square", "symbolSize": 42, "offset": 14, "columnPadding": 8, "labelOffset": 2, "labelFontSize": 10.5}},
        "order": {"field": "o", "type": "quantitative"}
       }}
    ], "spacing": 34, "resolve": {"scale": {"color": "independent", "fill": "independent", "stroke": "independent"}}}
  ], "spacing": 9, "resolve": {"scale": {"color": "independent", "fill": "independent", "stroke": "independent"}}},
  {"width": 1, "height": 11, "data": {"values": []}, "mark": "point"},
  {"hconcat": [
    {"width": 1, "height": 1, "data": {"values": []}, "mark": "point"},
    {"hconcat": [
      {"width": 345, "height": 1, "data": {"values": []}, "mark": "point", "view": {"fill": "#666666", "stroke": null}, "title": {"text": "资料来源：Wind, 中国银河证券研究院", "orient": "bottom", "anchor": "start", "offset": 4, "fontSize": 10.5, "fontStyle": "italic", "color": "#404040"}},
      {"width": 345, "height": 1, "data": {"values": []}, "mark": "point", "view": {"fill": "#666666", "stroke": null}, "title": {"text": "资料来源：Wind, 中国银河证券研究院", "orient": "bottom", "anchor": "start", "offset": 4, "fontSize": 10.5, "fontStyle": "italic", "color": "#404040"}}
    ], "spacing": 15}
  ], "spacing": 9},
  {"width": 1, "height": 72, "data": {"values": []}, "mark": "point"},
  {"hconcat": [
    {"width": 1, "height": 1, "data": {"values": []}, "mark": "point"},
    {"hconcat": [
      {"width": 680, "height": 1, "data": {"values": []}, "mark": "point", "view": {"fill": "#595959", "stroke": null}, "title": {"text": "请务必阅读正文最后的中国银河证券股份有限公司免责声明。", "orient": "bottom", "anchor": "start", "offset": 7, "fontSize": 10.5, "color": "#404040"}},
      {"width": 22, "height": 22, "data": {"values": [{"n": "21"}]}, "view": {"fill": "#5b7bb0", "stroke": null}, "mark": {"type": "text", "color": "white", "fontSize": 11, "font": "Liberation Serif"}, "encoding": {"text": {"field": "n"}}}
    ], "spacing": 0}
  ], "spacing": 9}
]
}
